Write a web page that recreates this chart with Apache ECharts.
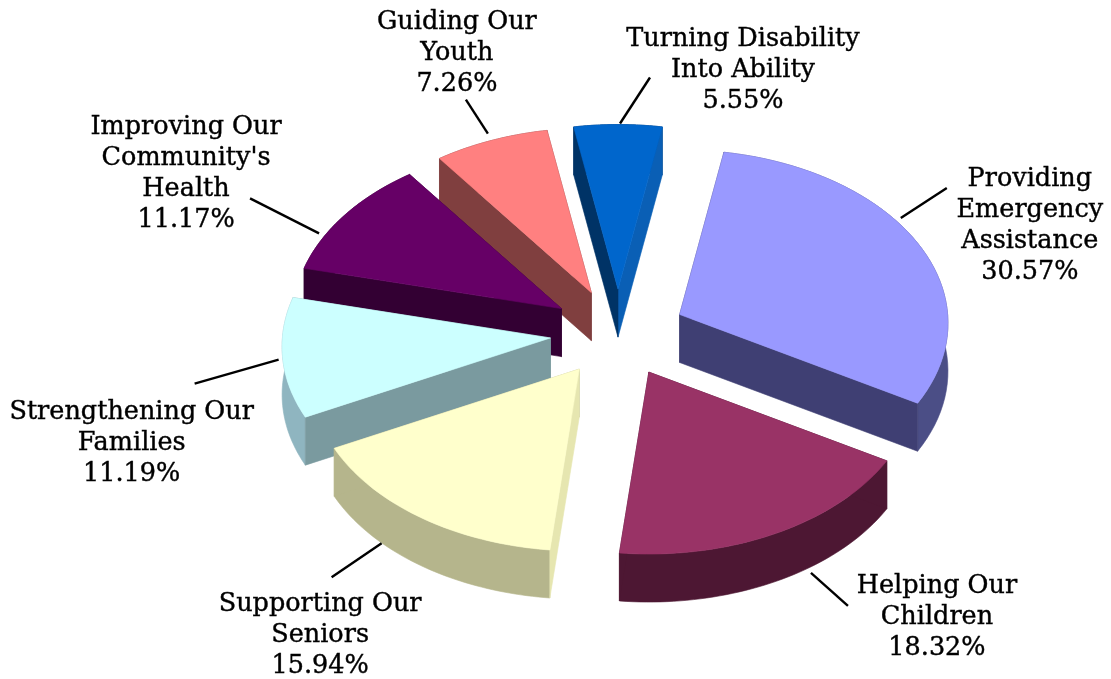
<!DOCTYPE html>
<html>
<head>
<meta charset="utf-8">
<style>html,body{margin:0;padding:0;background:#fff}#c{width:1111px;height:679px}</style>
<script src="https://cdn.jsdelivr.net/npm/echarts@6/dist/echarts.min.js"></script>
</head>
<body>
<div id="c"></div>
<script>
// --- data ---
const categories = [
  'Providing\nEmergency\nAssistance',
  'Helping Our\nChildren',
  'Supporting Our\nSeniors',
  'Strengthening Our\nFamilies',
  'Improving Our\nCommunity\'s\nHealth',
  'Guiding Our\nYouth',
  'Turning Disability\nInto Ability'
];
const values = [30.57, 18.32, 15.94, 11.19, 11.17, 7.26, 5.55];

// --- style ---
const topColors   = ['#9999ff', '#993366', '#ffffcc', '#ccffff', '#660066', '#ff8080', '#0066cc'];
const rimColors   = ['#4b4e86', '#4d1733', '#b5b58c', '#8fb5c0', '#330033', '#803f3f', '#003366'];
const startWall   = ['#3f3f73', '#4d1733', '#e6e6b0', '#7a9a9f', '#330033', '#803f3f', '#003366'];
const endWall     = ['#3f3f73', '#4d1733', '#b5b58c', '#7a9a9f', '#330033', '#803f3f', '#0a5fb5'];
const paintOrder  = [5, 6, 4, 3, 2, 1, 0];
const leaderAngle = [-7.5, -9, 11, 0, -10, -1, 0];
const leaderOnBase = [false, true, true, false, false, false, false];
const leaderNudge = [[1,-6],[-2,7],[1,1],[-4,2],[-2,-7],[1,-8],[2,-1]];
const leaderVec   = [[46,-30],[37,33],[-50,34],[-84,24],[-69,-35],[-22,-34],[30,-46]];
const labelOffset = [[83,37.5],[89,12],[-11.5,58],[-63,60],[-64,-24.5],[-9,-46],[93,-7.5]];
const PIE = {cx: 618, cy: 333, r: 268, k: 0.645, persp: 0.05, explode: 68, depth: 48};
const FONT = '25.5px "DejaVu Serif", serif';

const total = values.reduce((a, b) => a + b, 0);
const startDeg = values[values.length - 1] / total * 180; // last slice is centred on 12 o'clock
const rad = d => d * Math.PI / 180;

function sliceAngles(i) {
  let before = 0;
  for (let j = 0; j < i; j++) before += values[j];
  const a0 = startDeg + before / total * 360;
  return [a0, a0 + values[i] / total * 360];
}
function apexOf(mid) {
  return [PIE.cx + PIE.explode * Math.sin(rad(mid)),
          PIE.cy - PIE.explode * PIE.k * Math.cos(rad(mid))];
}
function rimPoint(apex, deg) {
  const s = 1 / (1 + PIE.persp * Math.cos(rad(deg)));
  return [apex[0] + PIE.r * Math.sin(rad(deg)) * s,
          apex[1] - PIE.r * PIE.k * Math.cos(rad(deg)) * s];
}
const down = p => [p[0], p[1] + PIE.depth];

function renderItem(params, api) {
  const i = params.dataIndex;
  const [a0, a1] = sliceAngles(i);
  const mid = (a0 + a1) / 2;
  const apex = apexOf(mid);
  const arc = [];
  const n = 48;
  for (let t = 0; t <= n; t++) arc.push(rimPoint(apex, a0 + (a1 - a0) * t / n));
  const z = paintOrder[i] * 5;
  const poly = (points, color, zz) => ({
    type: 'polygon', z2: zz, shape: {points},
    style: {fill: color, stroke: color, lineWidth: 0.6}
  });
  const first = arc[0], last = arc[n];
  // the wall whose outer corner lies further back is painted first
  const startBehind = first[1] <= last[1];
  const children = [
    poly(arc.concat(arc.slice().reverse().map(down)), rimColors[i], z),
    poly([apex, first, down(first), down(apex)], startWall[i], z + (startBehind ? 1 : 2)),
    poly([apex, last, down(last), down(apex)], endWall[i], z + (startBehind ? 2 : 1)),
    poly([apex].concat(arc), topColors[i], z + 3)
  ];
  // leader and label hang off a point on the slice's rim
  let anchor = rimPoint(apex, mid + leaderAngle[i]);
  if (leaderOnBase[i]) anchor = down(anchor);
  anchor = [anchor[0] + leaderNudge[i][0], anchor[1] + leaderNudge[i][1]];
  const end = [anchor[0] + leaderVec[i][0], anchor[1] + leaderVec[i][1]];
  children.push({
    type: 'line', z2: 100,
    shape: {x1: anchor[0], y1: anchor[1], x2: end[0], y2: end[1]},
    style: {stroke: '#000', lineWidth: 2.4}
  });
  children.push({
    type: 'text', z2: 101,
    style: {
      x: end[0] + labelOffset[i][0], y: end[1] + labelOffset[i][1],
      text: categories[i] + '\n' + api.value(0).toFixed(2) + '%',
      fill: '#000', stroke: '#000', lineWidth: 0.4,
      font: FONT, lineHeight: 31,
      align: 'center', verticalAlign: 'middle'
    }
  });
  return {type: 'group', children};
}

const chart = echarts.init(document.getElementById('c'), null, {renderer: 'canvas'});
chart.setOption({
  backgroundColor: '#ffffff',
  animation: false,
  series: [{
    type: 'custom',
    coordinateSystem: 'none',
    renderItem,
    data: values.map((v, i) => ({value: [v], name: categories[i]}))
  }]
});
</script>
</body>
</html>
